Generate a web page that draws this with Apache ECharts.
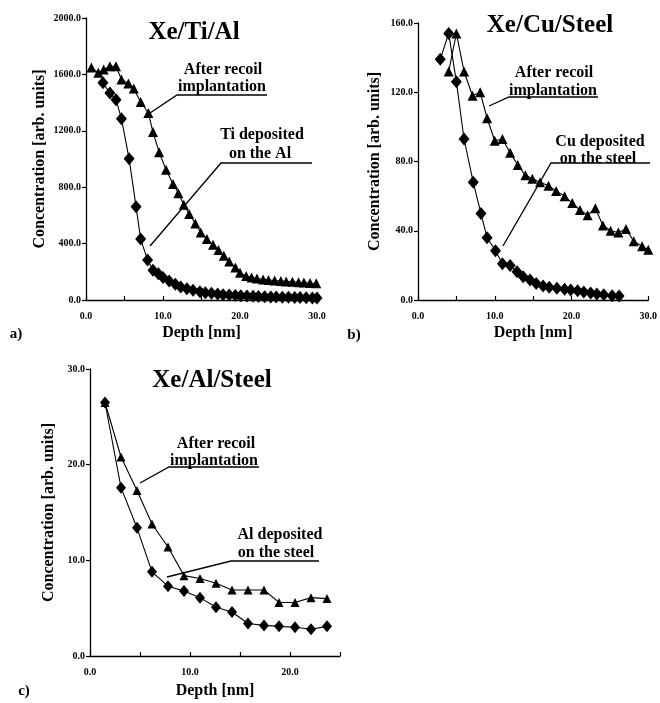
<!DOCTYPE html>
<html><head><meta charset="utf-8">
<script src="https://cdn.jsdelivr.net/npm/echarts@6/dist/echarts.min.js"></script>
<style>html,body{margin:0;padding:0;background:#fff}#c{width:660px;height:703px}</style>
</head><body><div id="c"></div>
<script>
// Panel a: Xe/Ti/Al
const depthA_recoil = [0.7,1.6,2.3,3.1,3.9,4.6,5.5,6.2,7.1,8.1,8.7,9.5,10.4,11.3,12.0,12.7,13.4,14.2,14.9,15.7,16.5,17.2,17.9,18.6,19.4,20.0,20.8,21.5,22.2,23.0,23.7,24.5,25.3,26.0,26.8,27.6,28.3,29.1,29.9];
const concA_recoil  = [1649,1611,1635,1658,1658,1564,1535,1500,1404,1326,1191,1048,923,823,757,676,610,543,479,432,391,354,313,273,230,194,171,159,152,146,142,138,135,132,129,126,124,121,119];
const depthA_dep = [2.2,3.1,3.9,4.6,5.6,6.5,7.1,8.0,8.7,9.4,10.0,10.8,11.6,12.3,13.1,13.9,14.8,15.5,16.3,17.1,17.8,18.6,19.4,20.1,20.9,21.7,22.4,23.2,24.0,24.7,25.5,26.3,27.1,27.8,28.6,29.4,30.0];
const concA_dep  = [1540,1468,1421,1286,1001,662,432,283,211,187,159,135,112,93,80,69,59,52,47,42,38,35,32,30,28,26,24,23,22,21,20,19,18,17,16,15,15];
// Panel b: Xe/Cu/Steel
const depthB_recoil = [4.0,5.0,6.0,7.1,8.1,9.0,10.0,11.0,12.0,13.0,14.0,14.9,15.9,17.0,18.0,19.1,20.1,21.1,22.1,23.1,24.1,25.1,26.1,27.1,28.1,29.2,30.0];
const concB_recoil  = [132,154,132,118,120,105,92,93,85,78,72,70,68,66,63,60,56,52,49,53,43,40,39,41,34,31,29];
const depthB_dep = [2.9,4.0,5.0,6.0,7.2,8.2,9.0,10.1,11.0,12.0,12.9,13.7,14.6,15.4,16.3,17.1,18.1,19.1,19.9,20.8,21.6,22.5,23.3,24.2,25.3,26.2];
const concB_dep  = [139,154,126,93,68,50,36,28.5,21,20,16.3,13.5,11.6,9.6,8.1,7.3,6.8,6.2,5.8,5.3,4.6,4.0,3.5,3.0,2.5,2.3];
// Panel c: Xe/Al/Steel
const depthC = [1.5,3.1,4.7,6.2,7.8,9.4,11.0,12.6,14.2,15.8,17.4,18.9,20.5,22.1,23.7];
const concC_recoil = [26.5,20.8,17.3,13.8,11.4,8.4,8.1,7.6,6.9,6.9,6.9,5.6,5.6,6.1,6.0];
const concC_dep    = [26.5,17.6,13.4,8.8,7.3,6.8,6.1,5.1,4.6,3.4,3.2,3.1,3.0,2.8,3.1];

const titles = ['Xe/Ti/Al','Xe/Cu/Steel','Xe/Al/Steel'];
const panelLabels = ['a)','b)','c)'];
const xName = 'Depth [nm]';
const yName = 'Concentration [arb. units]';

const FONT = '"Liberation Serif","Times New Roman",serif';
const zip = (xs, ys) => xs.map((x, i) => [x, ys[i]]);

function xAxis(idx, max, gap) {
  return {
    type: 'value', gridIndex: idx, min: 0, max: max, interval: 5,
    name: xName, nameLocation: 'middle', nameGap: gap,
    nameTextStyle: {fontFamily: FONT, fontWeight: 'bold', fontSize: 16, color: '#000'},
    axisLine: {lineStyle: {color: '#000', width: 1.3}},
    axisTick: {inside: true, length: 4, lineStyle: {color: '#000', width: 1.2}},
    axisLabel: {fontFamily: FONT, fontWeight: 'bold', fontSize: 10, color: '#000', margin: 11,
      formatter: v => (v % 10 === 0 ? v.toFixed(1) : '')},
    splitLine: {show: false}
  };
}
function yAxis(idx, max, interval, gap) {
  return {
    type: 'value', gridIndex: idx, min: 0, max: max, interval: interval,
    name: yName, nameLocation: 'middle', nameGap: gap,
    nameTextStyle: {fontFamily: FONT, fontWeight: 'bold', fontSize: 16, color: '#000'},
    axisLine: {show: true, lineStyle: {color: '#000', width: 1.3}},
    axisTick: {show: true, length: 4, lineStyle: {color: '#000', width: 1.2}},
    axisLabel: {fontFamily: FONT, fontWeight: 'bold', fontSize: 10, color: '#000', margin: 5,
      formatter: v => v.toFixed(1)},
    splitLine: {show: false}
  };
}
function series(idx, data, symbol, size) {
  return {
    type: 'line', xAxisIndex: idx, yAxisIndex: idx, data: data,
    symbol: symbol, symbolSize: size, showSymbol: true,
    lineStyle: {color: '#000', width: 1.1}, itemStyle: {color: '#000'},
    animation: false, z: 3
  };
}
function txt(x, y, text, size) {
  return {type: 'text', x: x, y: y, style: {text: text, fontFamily: FONT, fontWeight: 'bold',
    fontSize: size, fill: '#000', align: 'center', verticalAlign: 'middle'}};
}
function pl(points) {
  return {type: 'polyline', shape: {points: points}, style: {stroke: '#000', lineWidth: 1.3, fill: null}};
}

const chart = echarts.init(document.getElementById('c'), null, {renderer: 'canvas'});
chart.setOption({
  backgroundColor: '#fff',
  animation: false,
  grid: [
    {left: 86, top: 18, width: 231, height: 282},
    {left: 418, top: 23, width: 234, height: 277},
    {left: 90, top: 369, width: 250, height: 287}
  ],
  xAxis: [xAxis(0, 30, 25), xAxis(1, 30, 25), xAxis(2, 25, 27)],
  yAxis: [yAxis(0, 2000, 400, 38), yAxis(1, 160, 40, 35), yAxis(2, 30, 10, 33)],
  series: [
    series(0, zip(depthA_recoil, concA_recoil), 'triangle', 10),
    series(0, zip(depthA_dep, concA_dep), 'diamond', [11, 13]),
    series(1, zip(depthB_recoil, concB_recoil), 'triangle', 10),
    series(1, zip(depthB_dep, concB_dep), 'diamond', [11, 13]),
    series(2, zip(depthC, concC_recoil), 'triangle', 9),
    series(2, zip(depthC, concC_dep), 'diamond', [10, 12])
  ],
  graphic: [
    txt(194, 33, titles[0], 25),
    txt(550, 26, titles[1], 25),
    txt(212, 381, titles[2], 25),
    txt(16, 334, panelLabels[0], 15),
    txt(354, 335, panelLabels[1], 15),
    txt(24, 691, panelLabels[2], 15),
    // panel a annotations
    txt(223, 70, 'After recoil', 16),
    txt(222, 87, 'implantation', 16),
    pl([[150, 113], [177, 95], [267, 95]]),
    txt(262, 135, 'Ti deposited', 16),
    txt(260, 154, 'on the Al', 16),
    pl([[150, 246], [221, 163], [312, 163]]),
    // panel b annotations
    txt(554, 73, 'After recoil', 16),
    txt(553, 91, 'implantation', 16),
    pl([[489, 106], [509, 97], [598, 97]]),
    txt(600, 142, 'Cu deposited', 16),
    txt(598, 159, 'on the steel', 16),
    pl([[503, 246], [551, 163], [650, 163]]),
    // panel c annotations
    txt(216, 444, 'After recoil', 16),
    txt(214, 461, 'implantation', 16),
    pl([[140, 483], [169, 467], [259, 467]]),
    txt(280, 535, 'Al deposited', 16),
    txt(276, 553, 'on the steel', 16),
    pl([[167, 577], [231, 561], [319, 561]])
  ]
});
</script></body></html>
